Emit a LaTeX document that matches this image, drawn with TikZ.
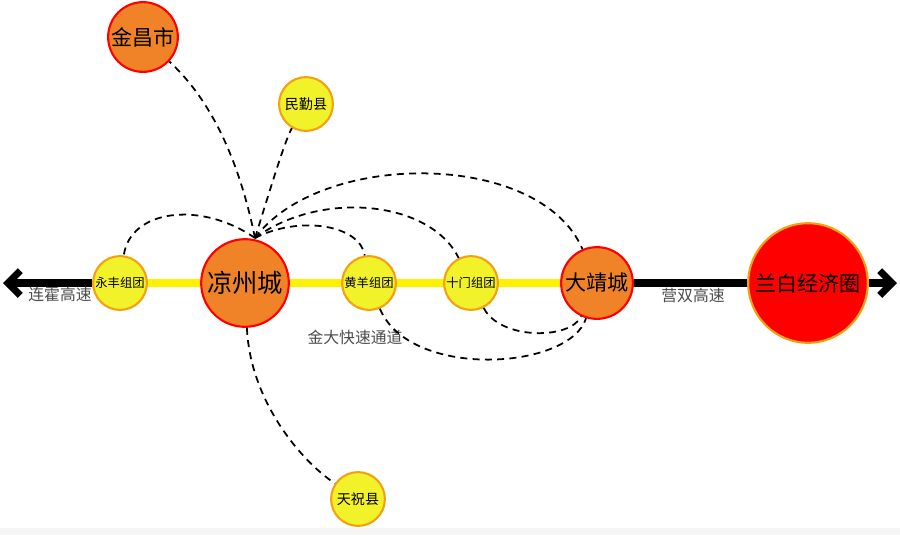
\documentclass[tikz,border=0pt]{standalone}
\usepackage{fontspec}
\newfontfamily\cjk{Noto Sans CJK SC}
\definecolor{cityorange}{HTML}{F08228}
\definecolor{townyellow}{HTML}{F2F22A}
\definecolor{rimorange}{HTML}{F5A010}
\tikzset{
  city/.style={circle,draw=red,line width=1.2pt,fill=cityorange,inner sep=0pt,font=\cjk},
  town/.style={circle,draw=rimorange,line width=1.2pt,fill=townyellow,inner sep=0pt,font=\cjk},
  link/.style={line width=1pt,dash pattern=on 4pt off 3pt},
  road/.style={line width=4pt,-{Straight Barb[length=7pt,width=14pt]}}
}
\usetikzlibrary{arrows.meta}
\begin{document}
\begin{tikzpicture}[x=0.02cm,y=-0.02cm]
    \useasboundingbox (0,0) rectangle (900,535);
    \fill[gray!8] (0,528) rectangle (900,535);

    \coordinate (W) at (3,283);
    \coordinate (E) at (897,283);
    \draw[gray,line width=0.6pt] (100,286) -- (760,286);
    \draw[yellow,line width=5pt] (120,283) -- (597,283);

    \node[city,minimum size=70*0.567pt] (JC) at (143,37) {\large 金昌市};
    \node[town,minimum size=54*0.567pt] (MQ) at (306,104) {\footnotesize 民勤县};
    \node[town,minimum size=54*0.567pt] (YF) at (120,283) {\scriptsize 永丰组团};
    \node[city,minimum size=88*0.567pt] (LZ) at (245,283) {\Large 凉州城};
    \node[town,minimum size=54*0.567pt] (HY) at (369,283) {\scriptsize 黄羊组团};
    \node[town,minimum size=54*0.567pt] (SM) at (471,283) {\scriptsize 十门组团};
    \node[city,minimum size=72*0.567pt] (DJ) at (597,283) {\large 大靖城};
    \node[circle,draw=rimorange,line width=1.2pt,fill=red,inner sep=0pt,font=\cjk,minimum size=120*0.567pt] (LB) at (808,283) {\large 兰白经济圈};
    \node[town,minimum size=54*0.567pt] (TZ) at (358,499) {\footnotesize 天祝县};

    \draw[road] (YF) -- (W);
    \draw[line width=4pt] (DJ) -- (LB);
    \draw[road] (LB) -- (E);

    \node[font=\cjk\small,text=black!70] (LH) at (60,294) {连霍高速};
    \node[font=\cjk\small,text=black!70] (YS) at (693,295) {营双高速};
    \node[font=\cjk\small,text=black!70] (JD) at (355,337) {金大快速通道};

    \coordinate (hub) at (255,238);
    \draw[link] (hub) .. controls (235,140) and (200,90) .. (JC);
    \draw[link] (hub) .. controls (270,190) and (285,140) .. (MQ);
    \draw[link] (hub) .. controls (200,200) and (130,210) .. (YF);
    \draw[link] (hub) .. controls (300,215) and (360,225) .. (HY);
    \draw[link] (hub) .. controls (320,190) and (430,200) .. (SM);
    \draw[link] (hub) .. controls (320,150) and (540,150) .. (DJ);
    \draw[link] (LZ) .. controls (250,400) and (300,460) .. (TZ);
    \draw[link] (HY) .. controls (410,380) and (570,370) .. (DJ);
    \draw[link] (SM) .. controls (500,340) and (570,340) .. (DJ);
\end{tikzpicture}
\end{document}
